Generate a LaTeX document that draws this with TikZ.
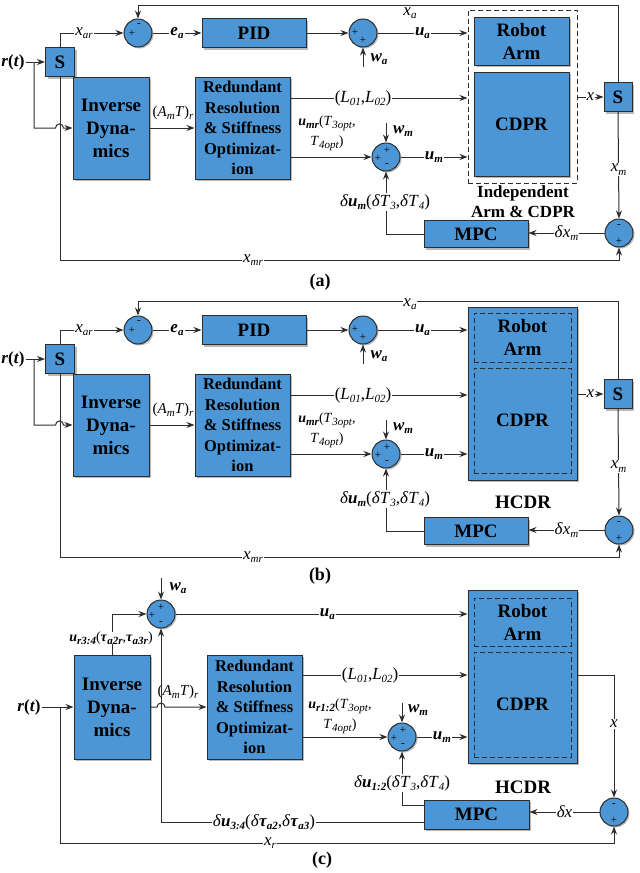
\documentclass[tikz,border=0pt]{standalone}
\usepackage{fontspec}
\setmainfont{Liberation Serif}
\usetikzlibrary{arrows.meta,shadows,positioning,calc}

\definecolor{boxblue}{RGB}{76,150,214}
\definecolor{linec}{RGB}{45,45,45}

% subscripts and signal names
\newcommand\lo[1]{\raisebox{-.45ex}{\fontsize{11}{11}\selectfont #1}}
\newcommand\sg[2]{\textit{#1}\lo{\textit{#2}}}
\newcommand\bsg[2]{\textbf{\textit{#1}}\lo{\textbf{\textit{#2}}}}

\tikzset{
  blk/.style={draw=linec, fill=boxblue, line width=1pt, inner sep=0pt, align=center,
    drop shadow={shadow xshift=2pt, shadow yshift=-2pt, opacity=.55},
    font=\bfseries\fontsize{19}{23}\selectfont},
  redblk/.style={blk, font=\bfseries\fontsize{16.5}{20.5}\selectfont},
  inbox/.style={draw=linec, line width=1pt, dash pattern=on 5pt off 3pt, inner sep=0pt,
    align=center, font=\bfseries\fontsize{19}{23}\selectfont},
  sumc/.style={circle, draw=linec, fill=boxblue, line width=1pt, minimum size=28pt, inner sep=0pt,
    drop shadow={shadow xshift=1.5pt, shadow yshift=-1.5pt, opacity=.55}},
  sgn/.style={font=\fontsize{11}{11}\selectfont, inner sep=0pt},
  lbl/.style={font=\fontsize{17}{20}\selectfont, inner sep=1pt},
  lblw/.style={lbl, fill=white},
  smalllbl/.style={font=\fontsize{14}{20}\selectfont, inner sep=1pt, align=center},
  flow/.style={draw=linec, line width=1pt, -{Stealth[length=8pt,width=6pt]}},
  panelcap/.style={font=\bfseries\fontsize{18}{20}\selectfont},
}

\begin{document}
\begin{tikzpicture}[x=1pt, y=-1pt]
\useasboundingbox (0,0) rectangle (640,873);

% ---------------- (a)
\begin{scope}
  \node[sumc] (suma1) at (138,33) {};
  \node[sumc] (suma2) at (363,33) {};
  \node[sumc] (suma3) at (386,157) {};
  \node[sumc] (suma4) at (619,233) {};
  \node[blk, minimum width=29pt, minimum height=29pt] (Sa) at (60,62) {S};
  \node[blk, minimum width=104pt, minimum height=29pt] (pida) at (254,33) {PID};
  \node[draw=linec, line width=1pt, dash pattern=on 5pt off 3pt, minimum width=109pt, minimum height=173pt] (sysa) at (522.5,96.5) {};
  \node[blk, minimum width=95pt, minimum height=48pt] (arma) at (521.5,41) {Robot\\Arm};
  \node[blk, minimum width=95pt, minimum height=104pt] (cdpra) at (521.5,124) {CDPR};
  \node[blk, minimum width=28pt, minimum height=29pt] (Sra) at (618,97) {S};
  \node[blk, minimum width=104pt, minimum height=27pt] (mpca) at (476,234) {MPC};
  \node[blk, minimum width=76pt, minimum height=102pt] (inva) at (111,128) {Inverse\\Dyna-\\mics};
  \node[redblk, minimum width=95pt, minimum height=102pt] (reda) at (242.5,128) {Redundant\\Resolution\\\& Stiffness\\Optimizat-\\ion};

  \node[sgn] at ($(suma1)+(-6,0)$) {+};
  \node[sgn] at ($(suma1)+(1,-8)$) {-};
  \node[sgn] at ($(suma2)+(-8,-1)$) {+};
  \node[sgn] at ($(suma2)+(0,7)$) {+};
  \node[sgn] at ($(suma3)+(-8,1)$) {+};
  \node[sgn] at ($(suma3)+(1,-7)$) {+};
  \node[sgn] at ($(suma3)+(1,8)$) {-};
  \node[sgn] at ($(suma4)+(0,-7)$) {-};
  \node[sgn] at ($(suma4)+(0,8)$) {+};

  \node[lbl] (rta) at (13,62) {\textbf{\textit{r}(\textit{t})}};
  \coordinate (bra) at (34,62);
  \coordinate (la) at ([yshift=30pt]reda.east);
  \coordinate (ua) at ([yshift=-29pt]reda.east);
  \coordinate (wa) at (363,67);
  \coordinate (wma) at (386,123);
  \coordinate (xaa) at (618,5);
  \coordinate (xmra) at (60,260);

  \draw[flow] (rta.east) -- (Sa.west);
  \draw[flow] (bra) |- ([xshift=-17pt]inva.west) arc (180:360:4) -- (inva.west);
  \draw[flow] (Sa.north) |- (suma1.west) node[lblw, pos=.69] {\sg{x}{ar}};
  \draw[flow] (suma1.east) -- (pida.west) node[lblw, midway] {\bsg{e}{a}};
  \draw[flow] (pida.east) -- (suma2.west);
  \draw[flow] (wa) -- (suma2.south);
  \draw[flow] (suma2.east) -- (sysa.west |- suma2) node[lblw, midway] {\bsg{u}{a}};
  \draw[flow] (inva.east) -- (reda.west);
  \draw[flow] (la) -- (sysa.west |- la) node[lblw, pos=.41] {(\sg{L}{01},\sg{L}{02})};
  \draw[flow] (ua) -- (suma3.west);
  \draw[flow] (wma) -- (suma3.north);
  \draw[flow] (suma3.east) -- (sysa.west |- suma3) node[lblw, midway] {\bsg{u}{m}};
  \draw[flow] (mpca.west) -| (suma3.south);
  \draw[flow] (suma4.west) -- (mpca.east |- suma4) node[lblw, midway] {\textit{δ}\sg{x}{m}};
  \draw[flow] (Sra.south) -- (suma4.north) node[lblw, pos=.54] {\sg{x}{m}};
  \draw[flow] (sysa.east |- Sra) -- (Sra.west) node[lbl, midway, fill=white, inner sep=.5pt] {\textit{x}};
  \draw[flow] (Sra.north) -- (xaa) -| (suma1.north);
  \draw[flow] (Sa.south) -- (xmra) -| (suma4.south);

  \node[lbl, inner sep=0pt] at (410,13) {\sg{x}{a}};
  \node[lblw] at (253,260) {\sg{x}{mr}};
  \node[lbl] at (379,59) {\bsg{w}{a}};
  \node[lbl] at (403,131) {\bsg{w}{m}};
  \node[lbl, font=\fontsize{15}{18}\selectfont] at (173,113) {(\sg{A}{m}\textit{T})\lo{\textit{r}}};
  \node[smalllbl] at (327,133) {\bsg{u}{mr}(\sg{T}{3opt},\\\sg{T}{4opt})};
  \node[lblw] at (385,202) {\textit{δ}\bsg{u}{m}(\textit{δ}\sg{T}{3},\textit{δ}\sg{T}{4})};
  \node[font=\bfseries\fontsize{17}{20}\selectfont, align=center] at (523,202) {Independent\\Arm \& CDPR};
  \node[panelcap] at (320,282) {(a)};
\end{scope}

% ---------------- (b)
\begin{scope}[shift={(0,297)}]
  \node[sumc] (sumb1) at (138,33) {};
  \node[sumc] (sumb2) at (363,33) {};
  \node[sumc] (sumb3) at (386,157) {};
  \node[sumc] (sumb4) at (619,233) {};
  \node[blk, minimum width=29pt, minimum height=29pt] (Sb) at (60,62) {S};
  \node[blk, minimum width=104pt, minimum height=29pt] (pidb) at (254,33) {PID};
  \node[blk, minimum width=109pt, minimum height=173pt] (sysb) at (522.5,96.5) {};
  \node[inbox, minimum width=97pt, minimum height=49pt] (armb) at (522.5,40.5) {Robot\\Arm};
  \node[inbox, minimum width=97pt, minimum height=105pt] (cdprb) at (522.5,123.5) {CDPR};
  \node[blk, minimum width=28pt, minimum height=29pt] (Srb) at (618,97) {S};
  \node[blk, minimum width=104pt, minimum height=27pt] (mpcb) at (476,234) {MPC};
  \node[blk, minimum width=76pt, minimum height=102pt] (invb) at (111,128) {Inverse\\Dyna-\\mics};
  \node[redblk, minimum width=95pt, minimum height=102pt] (redb) at (242.5,128) {Redundant\\Resolution\\\& Stiffness\\Optimizat-\\ion};

  \node[sgn] at ($(sumb1)+(-6,0)$) {+};
  \node[sgn] at ($(sumb1)+(1,-8)$) {-};
  \node[sgn] at ($(sumb2)+(-8,-1)$) {+};
  \node[sgn] at ($(sumb2)+(0,7)$) {+};
  \node[sgn] at ($(sumb3)+(-8,1)$) {+};
  \node[sgn] at ($(sumb3)+(1,-7)$) {+};
  \node[sgn] at ($(sumb3)+(1,8)$) {-};
  \node[sgn] at ($(sumb4)+(0,-7)$) {-};
  \node[sgn] at ($(sumb4)+(0,8)$) {+};

  \node[lbl] (rtb) at (13,62) {\textbf{\textit{r}(\textit{t})}};
  \coordinate (brb) at (34,62);
  \coordinate (lb) at ([yshift=30pt]redb.east);
  \coordinate (ub) at ([yshift=-29pt]redb.east);
  \coordinate (wb) at (363,67);
  \coordinate (wmb) at (386,123);
  \coordinate (xab) at (618,4);
  \coordinate (xmrb) at (60,260);

  \draw[flow] (rtb.east) -- (Sb.west);
  \draw[flow] (brb) |- ([xshift=-17pt]invb.west) arc (180:360:4) -- (invb.west);
  \draw[flow] (Sb.north) |- (sumb1.west) node[lblw, pos=.69] {\sg{x}{ar}};
  \draw[flow] (sumb1.east) -- (pidb.west) node[lblw, midway] {\bsg{e}{a}};
  \draw[flow] (pidb.east) -- (sumb2.west);
  \draw[flow] (wb) -- (sumb2.south);
  \draw[flow] (sumb2.east) -- (sysb.west |- sumb2) node[lblw, midway] {\bsg{u}{a}};
  \draw[flow] (invb.east) -- (redb.west);
  \draw[flow] (lb) -- (sysb.west |- lb) node[lblw, pos=.41] {(\sg{L}{01},\sg{L}{02})};
  \draw[flow] (ub) -- (sumb3.west);
  \draw[flow] (wmb) -- (sumb3.north);
  \draw[flow] (sumb3.east) -- (sysb.west |- sumb3) node[lblw, midway] {\bsg{u}{m}};
  \draw[flow] (mpcb.west) -| (sumb3.south);
  \draw[flow] (sumb4.west) -- (mpcb.east |- sumb4) node[lblw, midway] {\textit{δ}\sg{x}{m}};
  \draw[flow] (Srb.south) -- (sumb4.north) node[lblw, pos=.54] {\sg{x}{m}};
  \draw[flow] (sysb.east |- Srb) -- (Srb.west) node[lbl, midway, fill=white, inner sep=.5pt] {\textit{x}};
  \draw[flow] (Srb.north) -- (xab) -| (sumb1.north);
  \draw[flow] (Sb.south) -- (xmrb) -| (sumb4.south);

  \node[lblw, inner sep=0pt] at (410,7) {\sg{x}{a}};
  \node[lblw] at (253,260) {\sg{x}{mr}};
  \node[lbl] at (379,59) {\bsg{w}{a}};
  \node[lbl] at (403,131) {\bsg{w}{m}};
  \node[lbl, font=\fontsize{15}{18}\selectfont] at (173,113) {(\sg{A}{m}\textit{T})\lo{\textit{r}}};
  \node[smalllbl] at (327,133) {\bsg{u}{mr}(\sg{T}{3opt},\\\sg{T}{4opt})};
  \node[lblw] at (385,202) {\textit{δ}\bsg{u}{m}(\textit{δ}\sg{T}{3},\textit{δ}\sg{T}{4})};
  \node[font=\bfseries\fontsize{19}{22}\selectfont] at (523,205) {HCDR};
  \node[panelcap] at (320,279) {(b)};
\end{scope}

% ---------------- (c)
\begin{scope}
  \node[sumc] (sumc1) at (161,614) {};
  \node[sumc] (sumc3) at (402,737) {};
  \node[sumc] (sumc4) at (614,812) {};
  \node[blk, minimum width=76pt, minimum height=104pt] (invc) at (112,707) {Inverse\\Dyna-\\mics};
  \node[redblk, minimum width=95pt, minimum height=104pt] (redc) at (254.5,707) {Redundant\\Resolution\\\& Stiffness\\Optimizat-\\ion};
  \node[blk, minimum width=109pt, minimum height=173pt] (sysc) at (522.5,676.5) {};
  \node[inbox, minimum width=97pt, minimum height=48pt] (armc) at (522.5,622) {Robot\\Arm};
  \node[inbox, minimum width=97pt, minimum height=105pt] (cdprc) at (522.5,704.5) {CDPR};
  \node[blk, minimum width=105pt, minimum height=29pt] (mpcc) at (476.5,814.5) {MPC};

  \node[sgn] at ($(sumc1)+(-9,1)$) {+};
  \node[sgn] at ($(sumc1)+(0,-7)$) {+};
  \node[sgn] at ($(sumc1)+(0,9)$) {-};
  \node[sgn] at ($(sumc3)+(-8,1)$) {+};
  \node[sgn] at ($(sumc3)+(1,-7)$) {+};
  \node[sgn] at ($(sumc3)+(1,8)$) {-};
  \node[sgn] at ($(sumc4)+(0,-7)$) {-};
  \node[sgn] at ($(sumc4)+(0,8)$) {+};

  \node[lbl] (rtc) at (29,707) {\textbf{\textit{r}(\textit{t})}};
  \coordinate (brc) at (60,707);
  \coordinate (xrc) at (60,843);
  \coordinate (lc) at ([yshift=32pt]redc.east);
  \coordinate (uc) at ([yshift=-30pt]redc.east);
  \coordinate (wc) at (161,578);
  \coordinate (wmc) at (402,703);

  \draw[flow] (rtc.east) -- (invc.west);
  \draw[flow] (brc) -- (xrc) -| (sumc4.south);
  \draw[flow] (invc.north) |- (sumc1.west);
  \draw[flow] (wc) -- (sumc1.north);
  \draw[flow] (sumc1.east) -- (sysc.west |- sumc1) node[lblw, pos=.52] {\bsg{u}{a}};
  \draw[flow] (invc.east) -- ([xshift=-4pt]sumc1.center |- invc.east) arc (180:360:4) -- (redc.west);
  \draw[flow] ([yshift=-7.5pt]mpcc.west) -| (sumc1.south);
  \draw[flow] ([yshift=9.5pt]mpcc.west) -| (sumc3.south);
  \draw[flow] (lc) -- (sysc.west |- lc) node[lblw, pos=.41] {(\sg{L}{01},\sg{L}{02})};
  \draw[flow] (uc) -- (sumc3.west);
  \draw[flow] (wmc) -- (sumc3.north);
  \draw[flow] (sumc3.east) -- (sysc.west |- sumc3) node[lblw, midway] {\bsg{u}{m}};
  \draw[flow] ([yshift=1.5pt]sysc.east) -| (sumc4.north) node[lblw, pos=.7] {\textit{x}};
  \draw[flow] (sumc4.west) -- (mpcc.east |- sumc4) node[lblw, midway] {\textit{δx}};

  \node[lblw] at (270,843) {\sg{x}{r}};
  \node[lbl] at (178,588) {\bsg{w}{a}};
  \node[lbl] at (418,710) {\bsg{w}{m}};
  \node[lbl, font=\fontsize{15}{18}\selectfont] at (178,692) {(\sg{A}{m}\textit{T})\lo{\textit{r}}};
  \node[smalllbl, fill=white, inner sep=0pt] at (111,638) {\bsg{u}{r3:4}(\bsg{τ}{a2r},\bsg{τ}{a3r})};
  \node[lblw] at (264,822) {\textit{δ}\bsg{u}{3:4}(\textit{δ}\bsg{τ}{a2},\textit{δ}\bsg{τ}{a3})};
  \node[smalllbl] at (340,716) {\bsg{u}{r1:2}(\sg{T}{3opt},\\\sg{T}{4opt})};
  \node[lblw] at (402,783) {\textit{δ}\bsg{u}{1:2}(\textit{δ}\sg{T}{3},\textit{δ}\sg{T}{4})};
  \node[font=\bfseries\fontsize{19}{22}\selectfont] at (523,787) {HCDR};
  \node[panelcap] at (322,860) {(c)};
\end{scope}

\end{tikzpicture}
\end{document}
